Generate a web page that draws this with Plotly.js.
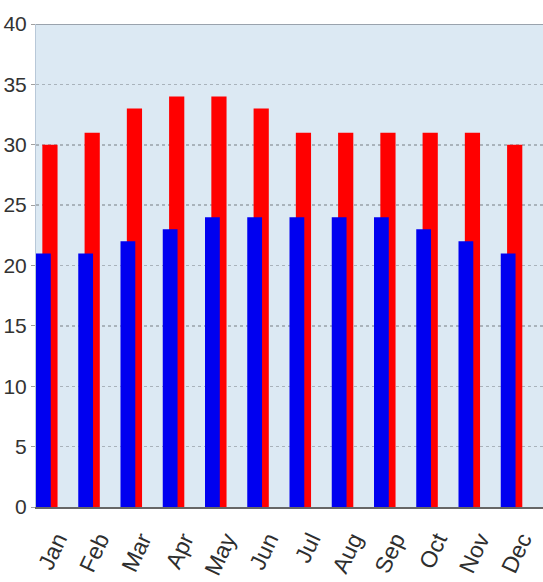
<!DOCTYPE html>
<html><head><meta charset="utf-8">
<script src="https://cdn.plot.ly/plotly-3.0.1.min.js"></script>
<style>html,body{margin:0;padding:0;background:#fff}</style>
</head><body><div id="chart" style="width:543px;height:582px"></div>
<script>
const months = ['Jan','Feb','Mar','Apr','May','Jun','Jul','Aug','Sep','Oct','Nov','Dec'];
const highTemps = [30,31,33,34,34,33,31,31,31,31,31,30];
const lowTemps = [21,21,22,23,24,24,24,24,24,23,22,21];

const traces = [
  {type:'bar', x:months, y:highTemps, name:'High', marker:{color:'#ff0000'}, offset:-0.35, width:0.36},
  {type:'bar', x:months, y:lowTemps, name:'Low', marker:{color:'#0000f0'}, offset:-0.5, width:0.35}
];
const layout = {
  width:543, height:582,
  margin:{l:36, r:0, t:24, b:75},
  barmode:'overlay',
  showlegend:false,
  paper_bgcolor:'#ffffff',
  plot_bgcolor:'#dce9f3',
  font:{family:'Liberation Sans, Arial, sans-serif', color:'#3a3a3a'},
  xaxis:{
    type:'category', range:[-0.5,11.5], tickangle:-65,
    tickfont:{size:23, color:'#2e2e2e'},
    ticklabelstandoff:8,
    showgrid:false, showline:true, linecolor:'#666', linewidth:2,
    ticks:'', fixedrange:true
  },
  yaxis:{
    range:[0,40], dtick:5, tick0:0,
    tickfont:{size:21, color:'#333'},
    showgrid:true, gridcolor:'#a9b3bb', gridwidth:1.5, griddash:'dot',
    zeroline:false, showline:true, linecolor:'#b8c8d8', linewidth:1,
    ticks:'outside', ticklen:4, tickcolor:'#a0a0a0',
    mirror:false
  },
  shapes:[{type:'line', xref:'paper', yref:'y', x0:0, x1:1, y0:40, y1:40, line:{color:'#9aa3ad', width:2}}]
};
Plotly.newPlot('chart', traces, layout, {displayModeBar:false, staticPlot:true});
</script></body></html>
